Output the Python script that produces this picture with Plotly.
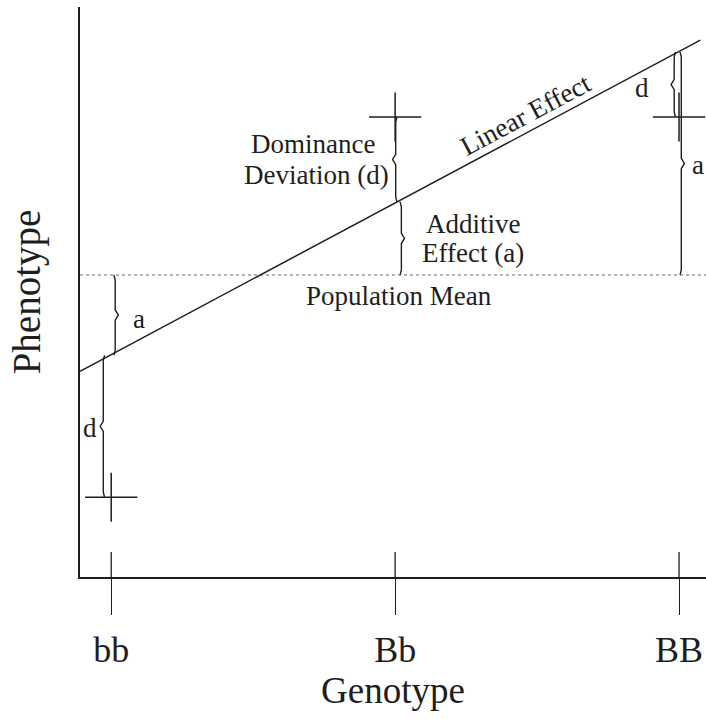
import plotly.graph_objects as go

# ---- data ----
genotypes = ["bb", "Bb", "BB"]
genotype_x = [0, 1, 2]
population_mean = 5.30
linear_effect_at_genotype = [3.89, 6.58, 9.21]   # breeding-value line at each genotype
genotypic_values = [1.40, 8.07, 8.07]             # actual genotype means (crosses)
linear_line_x = [-0.11, 2.075]                    # extent of linear effect line
linear_line_y = [3.61, 9.42]
x_range = [-0.11, 2.095]
y_range = [0, 10]

FONT = "Liberation Serif, Times New Roman, serif"
INK = "#1e1e1e"

fig = go.Figure()

# population mean (dotted)
fig.add_trace(go.Scatter(x=x_range, y=[population_mean, population_mean], mode="lines",
                         line=dict(color="#9a9a9a", width=1.5, dash="dot"),
                         hoverinfo="skip", showlegend=False))

# linear effect line
fig.add_trace(go.Scatter(x=linear_line_x, y=linear_line_y, mode="lines",
                         line=dict(color=INK, width=1.5), hoverinfo="skip", showlegend=False))


def brace(xc, ya, yb, direction, w=0.011, tip=0.09):
    y0, y1 = min(ya, yb), max(ya, yb)
    ym = (y0 + y1) / 2
    xs = [xc - direction * w * 0.4, xc, xc, xc + direction * w, xc, xc, xc - direction * w * 0.4]
    ys = [y0, y0 + tip, ym - tip, ym, ym + tip, y1 - tip, y1]
    fig.add_trace(go.Scatter(x=xs, y=ys, mode="lines", line=dict(color=INK, width=1.4),
                             hoverinfo="skip", showlegend=False))


# braces: (x offset from genotype, from, to, direction)
# bb
brace(genotype_x[0] + 0.014, population_mean, linear_effect_at_genotype[0], +1)
brace(genotype_x[0] - 0.028, linear_effect_at_genotype[0], genotypic_values[0], -1)
# Bb
brace(genotype_x[1] + 0.022, population_mean, linear_effect_at_genotype[1], +1)
brace(genotype_x[1] + 0.002, linear_effect_at_genotype[1], genotypic_values[1], -1)
# BB
brace(genotype_x[2] + 0.008, population_mean, linear_effect_at_genotype[2], +1)
brace(genotype_x[2] - 0.017, genotypic_values[2], linear_effect_at_genotype[2], -1)

# crosses at genotypic values
for gx, gv in zip(genotype_x, genotypic_values):
    fig.add_trace(go.Scatter(x=[gx - 0.092, gx + 0.092], y=[gv, gv], mode="lines",
                             line=dict(color=INK, width=1.5), hoverinfo="skip", showlegend=False))
    fig.add_trace(go.Scatter(x=[gx, gx], y=[gv - 0.43, gv + 0.43], mode="lines",
                             line=dict(color=INK, width=1.5), hoverinfo="skip", showlegend=False))

# inner part of crossing ticks
for gx in genotype_x:
    fig.add_shape(type="line", xref="x", yref="paper", x0=gx, x1=gx, y0=0, y1=0.044,
                  line=dict(color=INK, width=1.3))

anns = [
    dict(x=0.099, y=4.53, text="a"),
    dict(x=-0.074, y=2.61, text="d"),
    dict(x=0.711, y=7.60, text="Dominance"),
    dict(x=0.722, y=7.05, text="Deviation (d)"),
    dict(x=1.276, y=6.19, text="Additive"),
    dict(x=1.276, y=5.68, text="Effect (a)"),
    dict(x=1.870, y=8.58, text="d"),
    dict(x=2.068, y=7.23, text="a"),
    dict(x=1.014, y=4.93, text="Population Mean"),
]
for a in anns:
    fig.add_annotation(x=a["x"], y=a["y"], text=a["text"], showarrow=False,
                       font=dict(family=FONT, size=27, color=INK),
                       xanchor="center", yanchor="middle", align="center")

fig.add_annotation(x=1.458, y=8.11, text="Linear Effect", showarrow=False, textangle=-28,
                   font=dict(family=FONT, size=27, color=INK), xanchor="center", yanchor="middle")

fig.update_layout(
    width=706, height=719,
    margin=dict(l=80, r=0, t=7, b=142),
    plot_bgcolor="white", paper_bgcolor="white",
    font=dict(family=FONT, color=INK),
    xaxis=dict(range=x_range, tickvals=genotype_x, ticktext=genotypes,
               showgrid=False, zeroline=False, showline=True, linecolor=INK, linewidth=1.5,
               ticks="outside", ticklen=36, tickwidth=1.3, tickcolor=INK,
               tickfont=dict(family=FONT, size=36, color=INK), ticklabelstandoff=4,
               title=dict(text="Genotype", font=dict(family=FONT, size=37, color=INK), standoff=2)),
    yaxis=dict(range=y_range, showgrid=False, zeroline=False, showline=True, linecolor=INK,
               linewidth=1.5, showticklabels=False, ticks="",
               title=dict(text="Phenotype", font=dict(family=FONT, size=39, color=INK), standoff=26)),
)

fig.write_html("out.html", config={"displayModeBar": False},
               post_script="document.body.style.margin='0';")
